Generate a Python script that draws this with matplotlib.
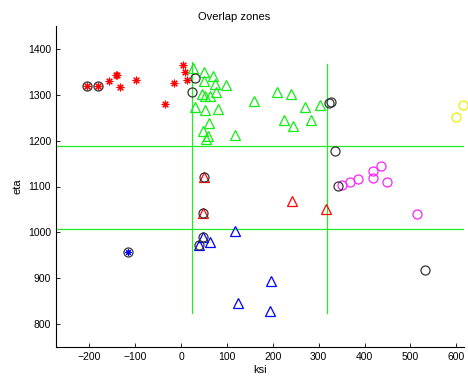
import numpy as np
import matplotlib
matplotlib.use('Agg')
import matplotlib.pyplot as plt

# Zone boundaries
ksi_bounds = [24, 319]
eta_bounds = [1008, 1188]

# Red asterisks (group 1)
red_ksi = [-205, -181, -158, -143, -140, -134, -99, -35, -15, 4, 8, 12]
red_eta = [1319, 1319, 1330, 1343, 1343, 1316, 1332, 1279, 1325, 1364, 1350, 1332]

# Green triangles (group 2)
green_ksi = [25, 50, 69, 49, 73, 97, 46, 52, 62, 76, 30, 53, 81, 60, 47, 59, 54, 118,
             160, 210, 239, 270, 303, 225, 244, 283]
green_eta = [1358, 1350, 1342, 1329, 1323, 1321, 1302, 1298, 1297, 1305, 1273, 1267, 1268,
             1239, 1222, 1210, 1203, 1212, 1286, 1305, 1301, 1273, 1278, 1244, 1233, 1244]

# Magenta circles
mag_ksi = [351, 369, 385, 418, 436, 418, 450, 514]
mag_eta = [1104, 1110, 1116, 1134, 1145, 1118, 1110, 1040]

# Yellow circles
yel_ksi = [600, 614]
yel_eta = [1252, 1278]

# Red triangles
rtri_ksi = [49, 47, 242, 315]
rtri_eta = [1121, 1043, 1069, 1050]

# Blue triangles
btri_ksi = [47, 40, 63, 118, 197, 124, 193]
btri_eta = [989, 972, 980, 1002, 893, 845, 829]

# Blue asterisk
bstar_ksi = [-117]
bstar_eta = [957]

# Black circles (highlighted points)
blk_ksi = [-205, -181, 30, 24, 327, 323, 335, 343, 49, 47, 47, 40, -117, 533]
blk_eta = [1319, 1319, 1337, 1305, 1285, 1281, 1177, 1101, 1121, 1043, 989, 972, 957, 919]

plt.rcParams['font.family'] = ['Liberation Sans', 'DejaVu Sans']
fig = plt.figure(figsize=(4.68, 3.76), dpi=100)
ax = fig.add_axes([56 / 468, 29 / 376, 408 / 468, 321 / 376])

green = '#22ee22'
ax.axvline(ksi_bounds[0], ymin=(825 - 750) / 700, ymax=(1372 - 750) / 700, color=green, lw=0.9)
ax.axvline(ksi_bounds[1], ymin=(825 - 750) / 700, ymax=(1368 - 750) / 700, color=green, lw=0.9)
for e in eta_bounds:
    ax.axhline(e, color=green, lw=0.9)

ast = (8, 2, 0)
ax.plot(red_ksi, red_eta, ls='none', marker=ast, color='red', ms=5.5, mew=0.8)
ax.plot(green_ksi, green_eta, ls='none', marker='^', mfc='none', mec='#11ee11', ms=6.5, mew=0.9)
ax.plot(mag_ksi, mag_eta, ls='none', marker='o', mfc='none', mec='#ff22ff', ms=6.5, mew=0.9)
ax.plot(yel_ksi, yel_eta, ls='none', marker='o', mfc='none', mec='#eeee00', ms=6.5, mew=0.9, clip_on=False)
ax.plot(rtri_ksi, rtri_eta, ls='none', marker='^', mfc='none', mec='red', ms=6.5, mew=0.9)
ax.plot(btri_ksi, btri_eta, ls='none', marker='^', mfc='none', mec='blue', ms=6.5, mew=0.9)
ax.plot(bstar_ksi, bstar_eta, ls='none', marker=ast, color='blue', ms=4.5, mew=0.8)
ax.plot(blk_ksi, blk_eta, ls='none', marker='o', mfc='none', mec='#333333', ms=6.5, mew=0.9)

ax.set_xlim(-273, 617)
ax.set_ylim(750, 1450)
ax.set_xticks(np.arange(-200, 601, 100))
ax.set_yticks(np.arange(800, 1401, 100))
ax.tick_params(direction='in', length=3, labelsize=7.5, width=0.6)
for s in ['top', 'right']:
    ax.spines[s].set_visible(False)
for s in ['left', 'bottom']:
    ax.spines[s].set_linewidth(0.8)

ax.set_xlabel('ksi', fontsize=8, labelpad=2)
ax.set_ylabel('eta', fontsize=8, labelpad=4)
fig.text(234 / 468, 1 - 17 / 376, 'Overlap zones', ha='center', va='center', fontsize=8)

fig.savefig('out.png', dpi=100)
